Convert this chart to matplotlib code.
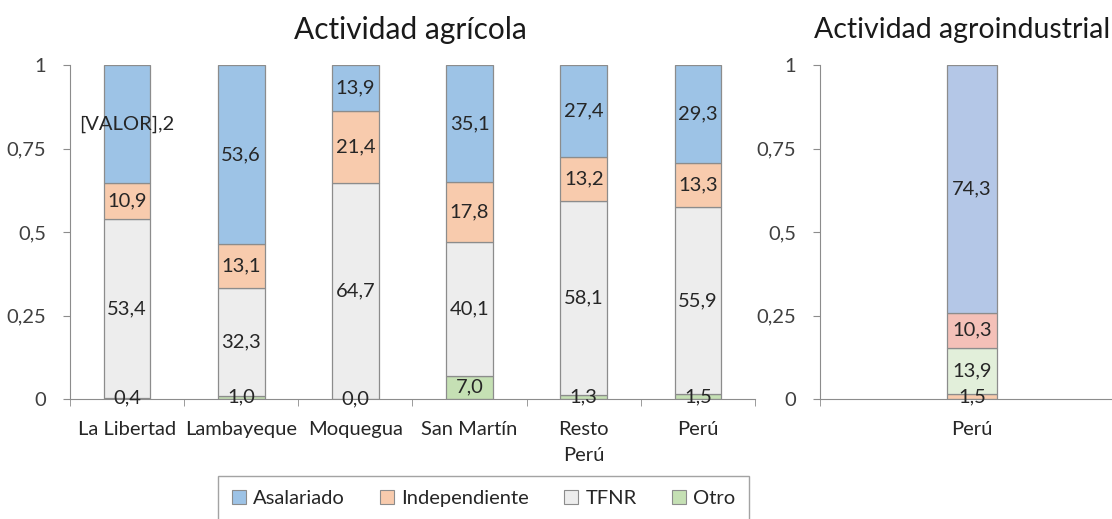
import numpy as np
import matplotlib.pyplot as plt
from matplotlib.patches import Patch

plt.rcParams['font.family'] = ['Lato', 'DejaVu Sans']

# Data (percent)
regiones = ['La Libertad', 'Lambayeque', 'Moquegua', 'San Martín', 'Resto\nPerú', 'Perú']
otro = [0.4, 1.0, 0.0, 7.0, 1.3, 1.5]
tfnr = [53.4, 32.3, 64.7, 40.1, 58.1, 55.9]
independiente = [10.9, 13.1, 21.4, 17.8, 13.2, 13.3]
asalariado = [35.2, 53.6, 13.9, 35.1, 27.4, 29.3]
etiquetas_asal = ['[VALOR],2', '53,6', '13,9', '35,1', '27,4', '29,3']

agro_cat = ['Perú']
agro_otro = [1.5]
agro_tfnr = [13.9]
agro_indep = [10.3]
agro_asal = [74.3]

series = ['Asalariado', 'Independiente', 'TFNR', 'Otro']
colores = {'Asalariado': '#9dc3e6', 'Independiente': '#f8cbad',
           'TFNR': '#ededed', 'Otro': '#c5e0b4'}
colores_agro = {'Asalariado': '#b4c7e7', 'Independiente': '#f4c0b8',
                'TFNR': '#e2efda', 'Otro': '#f8cbad'}
edge = '#8c8c8c'
txt = '#262626'
axcol = '#8c8c8c'
fs = 14.5


def fmt(v):
    return ('%.1f' % v).replace('.', ',')


def style(ax):
    for s in ['top', 'right']:
        ax.spines[s].set_visible(False)
    ax.spines['left'].set_color(axcol)
    ax.spines['bottom'].set_color(axcol)
    ax.set_ylim(0, 1)
    ax.set_yticks([0, 0.25, 0.5, 0.75, 1])
    ax.set_yticklabels(['0', '0,25', '0,5', '0,75', '1'])
    ax.tick_params(axis='y', colors=axcol, labelcolor='#404040', labelsize=fs,
                   length=5, pad=12)


def stack(ax, x, layers, cols, width):
    bottom = np.zeros(len(x))
    for name, vals, lab in layers:
        v = np.array(vals) / 100
        ax.bar(x, v, width, bottom=bottom, color=cols[name], edgecolor=edge,
               linewidth=0.9, zorder=2)
        for xi, b, h, t in zip(x, bottom, v, lab):
            ax.text(xi, b + h / 2, t, ha='center', va='center', fontsize=fs,
                    color=txt, zorder=3)
        bottom = bottom + v


fig = plt.figure(figsize=(11.12, 5.19), dpi=100)

# Left panel
ax1 = fig.add_axes([70 / 1112, 120 / 519, 685 / 1112, 334 / 519])
x = np.arange(len(regiones))
stack(ax1, x, [('Otro', otro, [fmt(v) for v in otro]),
               ('TFNR', tfnr, [fmt(v) for v in tfnr]),
               ('Independiente', independiente, [fmt(v) for v in independiente]),
               ('Asalariado', asalariado, etiquetas_asal)],
      colores, 0.41)
style(ax1)
ax1.set_xlim(-0.5, len(regiones) - 0.5)
ax1.set_xticks(x)
ax1.set_xticklabels(regiones, linespacing=1.6)
ax1.set_xticks(np.arange(len(regiones) + 1) - 0.5, minor=True)
ax1.tick_params(axis='x', which='major', length=0, labelsize=fs,
                labelcolor=txt, pad=16)
ax1.tick_params(axis='x', which='minor', length=5, color=axcol)
fig.text(410 / 1112, 1 - 30 / 519, 'Actividad agrícola', ha='center',
         va='center', fontsize=21.5, color='#1a1a1a')

# Right panel
ax2 = fig.add_axes([820 / 1112, 120 / 519, 292 / 1112, 334 / 519])
x2 = np.arange(len(agro_cat))
stack(ax2, x2, [('Otro', agro_otro, [fmt(v) for v in agro_otro]),
                ('TFNR', agro_tfnr, [fmt(v) for v in agro_tfnr]),
                ('Independiente', agro_indep, [fmt(v) for v in agro_indep]),
                ('Asalariado', agro_asal, [fmt(v) for v in agro_asal])],
      colores_agro, 0.165)
style(ax2)
ax2.set_xlim(-0.5, 0.46)
ax2.set_xticks(x2)
ax2.set_xticklabels(agro_cat)
ax2.tick_params(axis='x', length=0, labelsize=fs, labelcolor=txt, pad=16)
ax2.set_xticks([-0.5], minor=True)
ax2.tick_params(axis='x', which='minor', length=5, color=axcol)
fig.text(962 / 1112, 1 - 30 / 519, 'Actividad agroindustrial', ha='center',
         va='center', fontsize=20.5, color='#1a1a1a')

# Legend
handles = [Patch(facecolor=colores[s], edgecolor=edge, linewidth=0.8) for s in series]
leg = fig.legend(handles, series, loc='upper left', bbox_to_anchor=(218 / 1112, 43 / 519),
                 ncol=4, fontsize=fs, frameon=True, fancybox=False,
                 edgecolor='#8c8c8c', handlelength=0.7, handleheight=0.7,
                 handletextpad=0.35, columnspacing=1.75, borderpad=0.7,
                 borderaxespad=0)
leg.get_frame().set_linewidth(1.0)
for t in leg.get_texts():
    t.set_color(txt)

fig.savefig('out.png', dpi=100)
